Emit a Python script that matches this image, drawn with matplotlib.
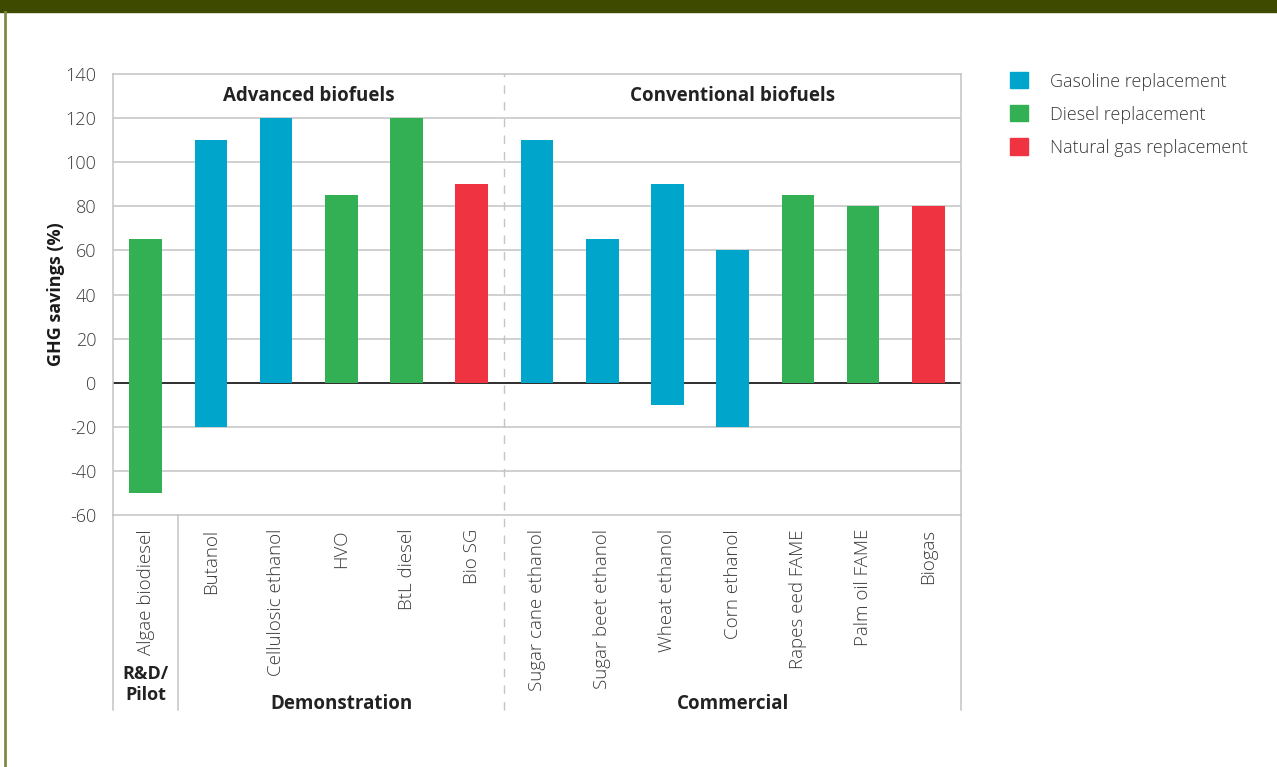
import matplotlib.pyplot as plt
from matplotlib.patches import Patch

plt.rcParams['font.family'] = ['Open Sans', 'DejaVu Sans']

# data
fuels = ["Algae biodiesel", "Butanol", "Cellulosic ethanol", "HVO", "BtL diesel", "Bio SG",
         "Sugar cane ethanol", "Sugar beet ethanol", "Wheat ethanol", "Corn ethanol",
         "Rapes eed FAME", "Palm oil FAME", "Biogas"]
low = [-50, -20, 0, 0, 0, 0, 0, 0, -10, -20, 0, 0, 0]
high = [65, 110, 120, 85, 120, 90, 110, 65, 90, 60, 85, 80, 80]
fuel_type = ["Diesel", "Gasoline", "Gasoline", "Diesel", "Diesel", "Natural gas",
             "Gasoline", "Gasoline", "Gasoline", "Gasoline", "Diesel", "Diesel", "Natural gas"]
type_labels = {"Gasoline": "Gasoline replacement", "Diesel": "Diesel replacement",
               "Natural gas": "Natural gas replacement"}
yticks = [-60, -40, -20, 0, 20, 40, 60, 80, 100, 120, 140]

colors = {"Gasoline": "#00a5cb", "Diesel": "#33b054", "Natural gas": "#ef3340"}
grid_c = "#c4c4c4"
text_c = "#3a3a3a"

fig = plt.figure(figsize=(12.77, 7.67), dpi=100)
ax = fig.add_axes([113/1277, 1-515/767, (961-113)/1277, (515-74)/767])

x = list(range(len(fuels)))
heights = [h - l for h, l in zip(high, low)]
ax.bar(x, heights, bottom=low, width=0.5, color=[colors[t] for t in fuel_type], zorder=3)

ax.set_xlim(-0.5, len(fuels) - 0.5)
ax.set_ylim(-60, 140)
ax.set_yticks(yticks)
ax.set_yticklabels([str(v) for v in yticks], fontsize=13, color=text_c, fontweight='light')
ax.tick_params(axis='y', length=0, pad=12)
ax.set_xticks([])
for v in yticks[1:-1]:
    ax.axhline(v, color=grid_c, lw=1.1, zorder=1)
ax.axhline(0, color="#222222", lw=1.3, zorder=2)
for s in ax.spines.values():
    s.set_color(grid_c)
    s.set_linewidth(1.1)

ax.set_ylabel("GHG savings (%)", fontsize=13, fontweight='bold', color="#1a1a1a", labelpad=0)

# group separators extending below the axis
trans = ax.get_xaxis_transform()
ybot = -(710-515)/(515-74)
ax.plot([-0.5, -0.5], [ybot, 0], transform=trans, color=grid_c, lw=1.1, clip_on=False)
ax.plot([12.5, 12.5], [ybot, 0], transform=trans, color=grid_c, lw=1.1, clip_on=False)
ax.plot([0.5, 0.5], [ybot, 0], transform=trans, color=grid_c, lw=1.1, clip_on=False)
ax.plot([5.5, 5.5], [ybot, 1], transform=trans, color=grid_c, lw=1, ls=(0, (6, 6)), clip_on=False)

ax.text(2.5, 130, "Advanced biofuels", ha='center', va='center', fontsize=13.5, fontweight='bold', color="#222222")
ax.text(9.0, 130, "Conventional biofuels", ha='center', va='center', fontsize=13.5, fontweight='bold', color="#222222")

for i, name in enumerate(fuels):
    ax.text(i, -(529-515)/(515-74), name, transform=trans, rotation=90, ha='center', va='top',
            fontsize=13.5, color=text_c, fontweight='light')

ax.text(0, -(665-515)/(515-74), "R&D/\nPilot", transform=trans, ha='center', va='top',
        fontsize=13, fontweight='bold', color="#222222", linespacing=1.2)
ax.text(3.0, -(704-515)/(515-74), "Demonstration", transform=trans, ha='center', va='center',
        fontsize=13.5, fontweight='bold', color="#222222")
ax.text(9.0, -(704-515)/(515-74), "Commercial", transform=trans, ha='center', va='center',
        fontsize=13.5, fontweight='bold', color="#222222")

handles = [Patch(color=colors[k], label=v) for k, v in type_labels.items()]
fig.legend(handles=handles, loc='upper left', bbox_to_anchor=(994/1277, 1-56/767), frameon=False,
           prop={'size': 13, 'weight': 'light'}, handlelength=1.0, handleheight=1.0,
           handletextpad=1.2, labelspacing=0.82, labelcolor=text_c)

# header bar and frame
fig.patches.append(plt.Rectangle((0, 1-12/767), 1, 12/767, transform=fig.transFigure,
                                 color="#3d4a00", zorder=0))
fig.lines.append(plt.Line2D([5/1277, 5/1277], [0, 1-12/767], transform=fig.transFigure,
                            color="#7d8c45", lw=2))

fig.savefig("out.png", dpi=100)
